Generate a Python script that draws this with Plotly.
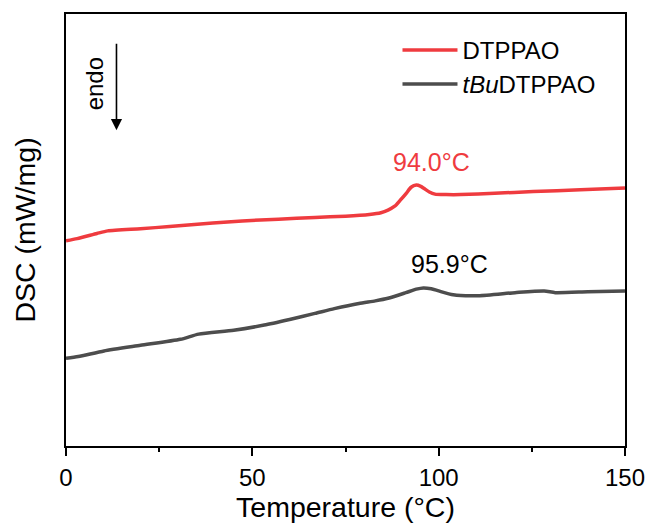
import plotly.graph_objects as go

# DTPPAO (red) trace: temperature (°C) and DSC signal (arbitrary units, exo up)
t_red = [0, 3, 8.3, 11.2, 20, 27.8, 39.4, 47.3, 57, 66.8, 75, 81.4, 84.5, 86.4, 88.2, 89.7,
         91.3, 92.6, 94.0, 95.2, 96.1, 97.5, 99.0, 102, 105.9, 115, 125.4, 138, 150]
dsc_red = [4.75, 4.80, 4.92, 4.98, 5.03, 5.08, 5.16, 5.21, 5.25, 5.29, 5.32, 5.36, 5.40, 5.46,
           5.55, 5.69, 5.85, 5.99, 6.04, 6.01, 5.96, 5.88, 5.83, 5.82, 5.82, 5.85, 5.89, 5.93, 5.97]

# tBuDTPPAO (grey) trace
t_grey = [0, 3.3, 10.2, 20, 30.7, 35.6, 45, 53.2, 60, 66.8, 72, 78.6, 83, 86.4, 91.2, 94,
          95.9, 98, 100.0, 103.9, 110.7, 120.5, 128.3, 131.3, 140, 150]
dsc_grey = [2.03, 2.07, 2.20, 2.33, 2.47, 2.59, 2.68, 2.80, 2.93, 3.07, 3.18, 3.30, 3.36, 3.42,
            3.55, 3.63, 3.66, 3.64, 3.59, 3.50, 3.48, 3.55, 3.59, 3.55, 3.57, 3.59]

series_names = ["DTPPAO", "<i>tBu</i>DTPPAO"]
series_colors = ["#EF3B3F", "#4D4D4D"]
peak_labels = ["94.0°C", "95.9°C"]
peak_label_pos = [(98.2, 6.58), (102.8, 4.21)]

FONT = "Arial, Liberation Sans, sans-serif"

fig = go.Figure()
for t, d, name, col in zip([t_red, t_grey], [dsc_red, dsc_grey], series_names, series_colors):
    fig.add_trace(go.Scatter(x=t, y=d, mode="lines", name=name,
                             line=dict(color=col, width=3.5, shape="spline", smoothing=0.6)))

for (lx, ly), txt, col in zip(peak_label_pos, peak_labels, ["#EF3B3F", "#000000"]):
    fig.add_annotation(x=lx, y=ly, xref="x", yref="y", text=txt, showarrow=False,
                       xanchor="center", yanchor="middle",
                       font=dict(family=FONT, size=25, color=col))

# endo arrow
fig.add_annotation(x=0.0903, y=0.731, xref="paper", yref="paper", ax=0, ay=-88,
                   axref="pixel", ayref="pixel", text="", showarrow=True,
                   arrowhead=2, arrowsize=1.4, arrowwidth=1.6, arrowcolor="black")
fig.add_annotation(x=0.0525, y=0.838, xref="paper", yref="paper", text="endo",
                   showarrow=False, textangle=-90, xanchor="center", yanchor="middle",
                   font=dict(family=FONT, size=24, color="black"))

fig.update_layout(
    width=651, height=523,
    margin=dict(l=66, r=26, t=14, b=77, autoexpand=False),
    paper_bgcolor="white", plot_bgcolor="white",
    font=dict(family=FONT, size=24, color="black"),
    showlegend=True,
    legend=dict(x=0.593, y=0.968, xanchor="left", yanchor="top",
                bgcolor="rgba(0,0,0,0)", font=dict(family=FONT, size=24),
                itemwidth=55, tracegroupgap=0),
)
fig.update_xaxes(
    range=[0, 150], tickvals=[0, 50, 100, 150], ticks="outside", ticklen=8, tickwidth=1.5,
    tickcolor="black", showline=True, linecolor="black", linewidth=2, mirror=True,
    showgrid=False, zeroline=False, tickfont=dict(family=FONT, size=24), ticklabelstandoff=1,
    automargin=False,
    minor=dict(tickvals=[25, 75, 125], ticks="outside", ticklen=4, tickwidth=1.5, tickcolor="black"),
    title=dict(text="Temperature (°C)", font=dict(family=FONT, size=28.5), standoff=6),
)
fig.update_yaxes(
    range=[0, 10], showticklabels=False, ticks="", showline=True, linecolor="black",
    linewidth=2, mirror=True, showgrid=False, zeroline=False, automargin=False,
    title=dict(text="DSC (mW/mg)", font=dict(family=FONT, size=28.5), standoff=20),
)

fig.write_html("out.html")
